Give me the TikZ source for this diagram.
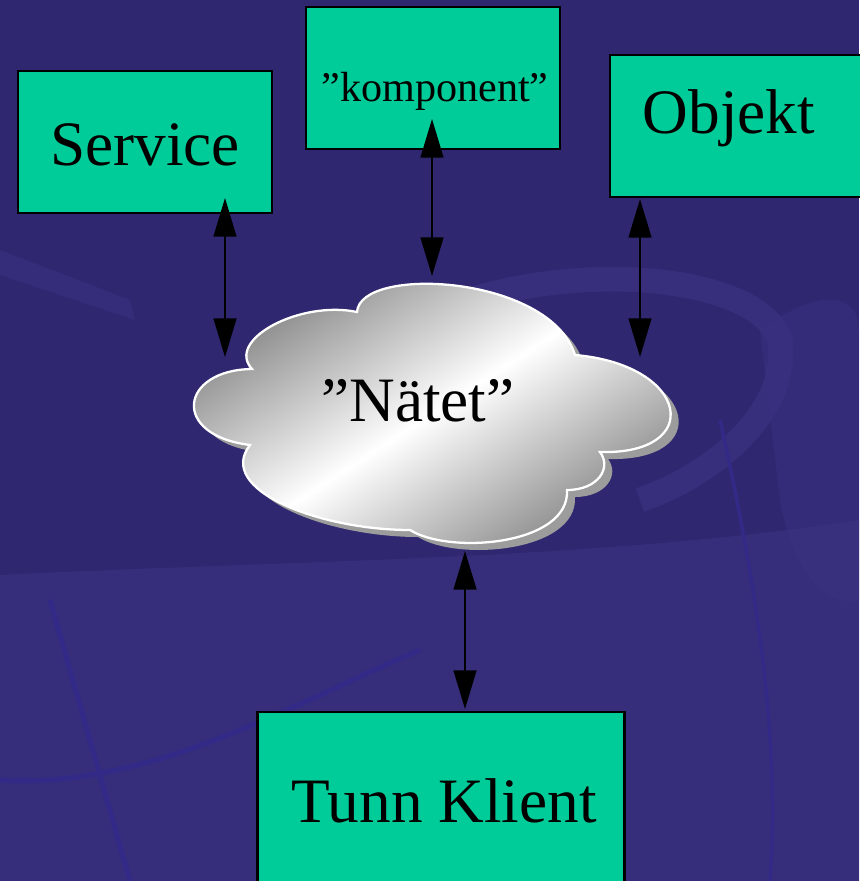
\documentclass[tikz,border=0pt]{standalone}
\usepackage{fontspec}
\setmainfont{Liberation Serif}
\usetikzlibrary{arrows.meta}
\definecolor{bgdark}{HTML}{2F2870}
\definecolor{bglight}{HTML}{3A3180}
\definecolor{bgline}{HTML}{332A88}
\definecolor{boxgreen}{HTML}{00CC99}
\definecolor{clouddark}{HTML}{7E7E7E}
\definecolor{shadowgray}{HTML}{9C9C9C}
\tikzset{
  boxnode/.style={draw=black, line width=1.2pt, fill=boxgreen, inner sep=0pt},
  bigtext/.style={font=\fontsize{36}{40}\selectfont, text=black, inner sep=0pt, anchor=base},
  smalltext/.style={font=\fontsize{24}{28}\selectfont, text=black, inner sep=0pt, anchor=base},
  link/.style={draw=black, line width=1.1pt, {Triangle[length=22pt,width=13pt]}-{Triangle[length=22pt,width=13pt]}},
}
\def\cloudpath{(252,369) .. controls (225,340) and (300,300) .. (357,312)
  .. controls (360,265) and (550,275) .. (575,355)
  .. controls (690,365) and (705,455) .. (600,452)
  .. controls (612,468) and (598,490) .. (567,490)
  .. controls (570,545) and (450,555) .. (410,530)
  .. controls (320,530) and (215,490) .. (250,445)
  .. controls (170,435) and (180,370) .. (252,369) -- cycle}
\begin{document}
\begin{tikzpicture}[x=0.02cm,y=-0.02cm]
% background
\fill[bgdark] (0,0) rectangle (859,881);
\useasboundingbox (0,0) rectangle (859,881);
\fill[bglight, opacity=0.7] (0,575) .. controls (300,560) and (600,560) .. (859,520) -- (859,881) -- (0,881) -- cycle;
\draw[bglight, line width=14pt, opacity=0.8] (470,300) .. controls (600,260) and (760,280) .. (780,340) .. controls (790,420) and (700,480) .. (640,500);
\fill[bglight, opacity=0.6] (0,250) -- (130,300) -- (135,320) -- (0,275) -- cycle;
\fill[bglight, opacity=0.5] (760,330) .. controls (830,280) and (859,300) .. (859,330) -- (859,600) .. controls (820,610) and (790,560) .. (780,500) -- cycle;
\draw[bgline, line width=3pt] (50,600) -- (130,881);
\draw[bgline, line width=3pt] (0,780) .. controls (150,790) and (300,700) .. (420,650);
\draw[bgline, line width=2pt] (720,420) .. controls (760,600) and (780,750) .. (770,881);

% boxes
\node[boxnode, minimum width={254*0.02cm}, minimum height={142*0.02cm}] (svc) at (145,142) {};
\node[boxnode, minimum width={254*0.02cm}, minimum height={142*0.02cm}] (komp) at (433,78) {};
\node[boxnode, minimum width={262*0.02cm}, minimum height={142*0.02cm}] (obj) at (741,126) {};
\node[boxnode, minimum width={367*0.02cm}, minimum height={190*0.02cm}] (tunn) at (441,807) {};

\node[bigtext] (svct) at (145,166) {Service};
\node[smalltext] (kompt) at (435,102) {”komponent”};
\node[bigtext] (objt) at (729,134) {Objekt};
\node[bigtext] (tunnt) at (444,822) {Tunn Klient};

% cloud
\fill[shadowgray] [shift={(8,7)}] \cloudpath;
\shade[top color=clouddark, bottom color=clouddark, middle color=white, shading angle=33, draw=white, line width=1.3pt] \cloudpath;
\node[bigtext] (net) at (418,421) {”Nätet”};

% connectors
\coordinate (s1) at (225,198);
\coordinate (s2) at (225,357);
\coordinate (k1) at (432,119);
\coordinate (k2) at (432,276);
\coordinate (o1) at (640,199);
\coordinate (o2) at (640,357);
\coordinate (t1) at (465,551);
\coordinate (t2) at (465,709);
\draw[link] (s1) -- (s2);
\draw[link] (k1) -- (k2);
\draw[link] (o1) -- (o2);
\draw[link] (t1) -- (t2);
\end{tikzpicture}
\end{document}
